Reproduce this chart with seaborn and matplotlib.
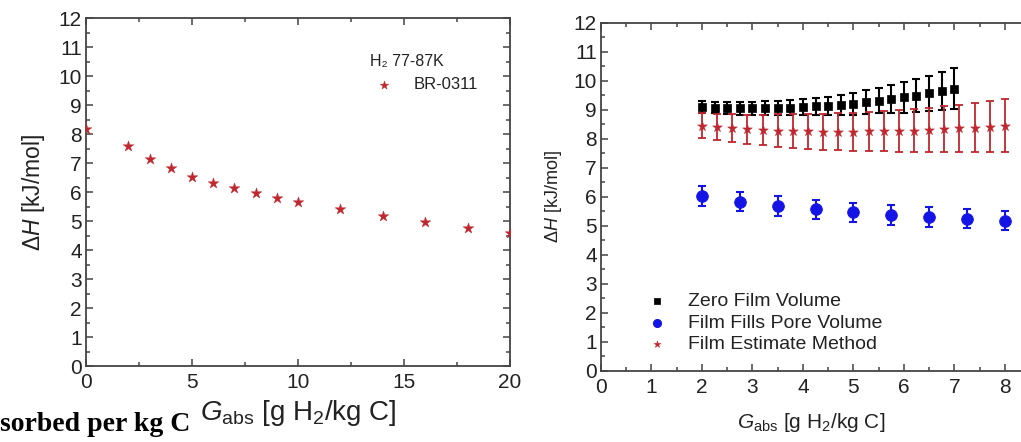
import numpy as np
import pandas as pd
import seaborn as sns
import matplotlib.pyplot as plt

sns.set_style('ticks')
plt.rcParams['font.family'] = ['Liberation Sans', 'DejaVu Sans']
plt.rcParams['mathtext.fontset'] = 'custom'
plt.rcParams['mathtext.rm'] = 'Liberation Sans'
plt.rcParams['mathtext.it'] = 'Liberation Sans:italic'
plt.rcParams['xtick.direction'] = 'in'
plt.rcParams['ytick.direction'] = 'in'

# left panel: BR-0311
g_left = [0, 2, 3, 4, 5, 6, 7, 8, 9, 10, 12, 14, 16, 18, 20]
dh_left = [8.18, 7.6, 7.14, 6.82, 6.54, 6.32, 6.13, 5.97, 5.8, 5.67, 5.41, 5.18, 4.97, 4.78, 4.6]

# right panel
g_zero = [2, 2.25, 2.5, 2.75, 3, 3.25, 3.5, 3.75, 4, 4.25, 4.5, 4.75, 5, 5.25, 5.5,
          5.75, 6, 6.25, 6.5, 6.75, 7]
dh_zero = [9.1, 9.07, 9.05, 9.05, 9.05, 9.05, 9.06, 9.07, 9.08, 9.12, 9.14, 9.16, 9.2,
           9.26, 9.31, 9.36, 9.42, 9.48, 9.56, 9.65, 9.72]
err_zero = [0.2, 0.2, 0.2, 0.22, 0.22, 0.23, 0.24, 0.25, 0.27, 0.29, 0.31, 0.34, 0.37,
            0.4, 0.44, 0.48, 0.52, 0.56, 0.6, 0.65, 0.7]

g_pore = [2, 2.75, 3.5, 4.25, 5, 5.75, 6.5, 7.25, 8]
dh_pore = [6.03, 5.83, 5.68, 5.56, 5.46, 5.37, 5.3, 5.24, 5.17]
err_pore = [0.34, 0.33, 0.33, 0.33, 0.33, 0.33, 0.33, 0.33, 0.33]

g_est = [2, 2.3, 2.6, 2.9, 3.2, 3.5, 3.8, 4.1, 4.4, 4.7, 5, 5.3, 5.6, 5.9, 6.2, 6.5,
         6.8, 7.1, 7.4, 7.7, 8]
dh_est = [8.45, 8.4, 8.36, 8.33, 8.3, 8.28, 8.26, 8.25, 8.24, 8.24, 8.24, 8.25, 8.26,
          8.27, 8.28, 8.3, 8.32, 8.35, 8.38, 8.41, 8.45]
err_est = [0.42, 0.45, 0.48, 0.5, 0.53, 0.56, 0.58, 0.6, 0.62, 0.64, 0.66, 0.68, 0.7,
           0.72, 0.74, 0.76, 0.79, 0.82, 0.85, 0.88, 0.92]

red = '#c0262d'
blue = '#1414e6'
txt = '#222222'
spine = '#444444'

fig = plt.figure(figsize=(10.21, 4.42), dpi=100)
ax1 = fig.add_axes([0.0842, 0.171, 0.4153, 0.788])
ax2 = fig.add_axes([0.5886, 0.161, 0.4114, 0.788])

xlab = r'$G_{\rm abs}$ [g H$_2$/kg C]'
ylab = r'$\Delta H$ [kJ/mol]'


def style(ax, xmax, xmajor, xminor):
    ax.set_ylim(0, 12)
    ax.set_xlim(0, xmax)
    ax.set_yticks(np.arange(0, 13, 1))
    ax.set_yticks(np.arange(0, 12.01, 0.5), minor=True)
    ax.set_xticks(np.arange(0, xmax + 0.01, xmajor))
    ax.set_xticks(np.arange(0, xmax + 0.01, xminor), minor=True)
    ax.tick_params(which='both', top=True, right=True, colors=spine, labelcolor=txt,
                   labelsize=15, width=1.1)
    ax.tick_params(which='major', length=5)
    ax.tick_params(which='minor', length=3)
    ax.tick_params(axis='x', pad=5)
    ax.tick_params(axis='y', pad=3)
    for s in ax.spines.values():
        s.set_color(spine)
        s.set_linewidth(1.3)
        s.set_visible(True)


# left
df_left = pd.DataFrame({'g': g_left, 'dh': dh_left})
sns.scatterplot(data=df_left, x='g', y='dh', marker='*', s=65, color=red,
                edgecolor=red, linewidth=0.3, ax=ax1, label='BR-0311', zorder=3)
style(ax1, 20, 5, 2.5)
ax1.set_xlabel(xlab, fontsize=20, color=txt, labelpad=4)
ax1.set_ylabel(ylab, fontsize=16.5, color=txt, labelpad=8)
leg1 = ax1.legend(loc='upper right', frameon=False, fontsize=12, title='H₂ 77-87K',
                  title_fontsize=11.5, bbox_to_anchor=(0.96, 0.94), handletextpad=1.0,
                  handlelength=1.6, alignment='left', markerscale=0.8)
for t in leg1.get_texts():
    t.set_color(txt)
leg1.get_title().set_color(txt)

# right
ax2.errorbar(g_zero, dh_zero, yerr=err_zero, fmt='none', ecolor='black', elinewidth=1.5,
             capsize=3, capthick=1.5, zorder=2)
ax2.errorbar(g_est, dh_est, yerr=err_est, fmt='none', ecolor=red, elinewidth=1.3,
             capsize=3, capthick=1.3, zorder=2)
ax2.errorbar(g_pore, dh_pore, yerr=err_pore, fmt='none', ecolor=blue, elinewidth=1.5,
             capsize=3, capthick=1.5, zorder=2)
sns.scatterplot(x=g_zero, y=dh_zero, marker='s', s=40, color='black', edgecolor='black',
                ax=ax2, label='Zero Film Volume', zorder=3)
sns.scatterplot(x=g_pore, y=dh_pore, marker='o', s=70, color=blue, edgecolor=blue,
                ax=ax2, label='Film Fills Pore Volume', zorder=3)
sns.scatterplot(x=g_est, y=dh_est, marker='*', s=55, color=red, edgecolor=red,
                linewidth=0.3, ax=ax2, label='Film Estimate Method', zorder=3)
style(ax2, 8.32, 1, 0.5)
ax2.spines['right'].set_visible(False)
ax2.tick_params(which='both', right=False)
ax2.set_xlabel(xlab, fontsize=15, color=txt, labelpad=10)
ax2.set_ylabel(ylab, fontsize=13, color=txt, labelpad=7)
leg2 = ax2.legend(loc='lower left', frameon=False, fontsize=14, bbox_to_anchor=(0.045, 0.0),
                  handletextpad=0.6, labelspacing=0.2, markerscale=0.7)
for t in leg2.get_texts():
    t.set_color(txt)

fig.text(0.0, 0.012, 'sorbed per kg C', fontsize=20, fontweight='bold',
         family=['Liberation Serif', 'DejaVu Serif'], color='black', ha='left', va='bottom')

fig.savefig('out.png', dpi=100)
